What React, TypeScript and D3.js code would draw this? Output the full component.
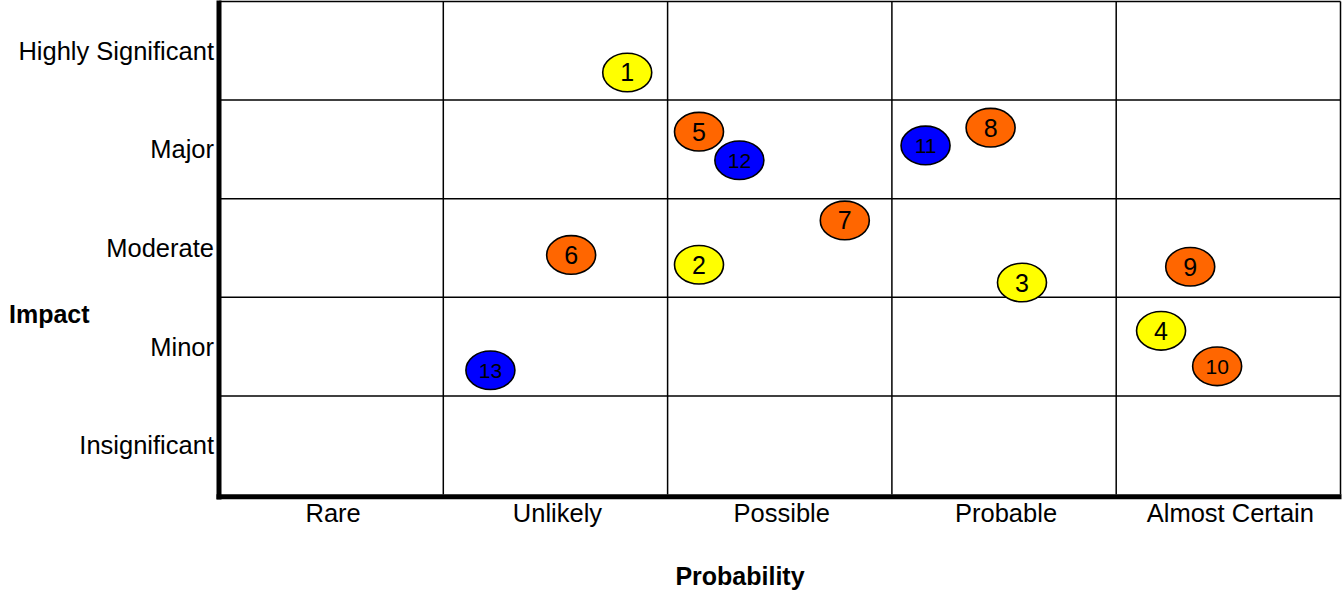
import React from 'react';
import * as d3 from 'd3';

// Axis categories
const probabilityLevels = ['Rare', 'Unlikely', 'Possible', 'Probable', 'Almost Certain'];
const impactLevels = ['Insignificant', 'Minor', 'Moderate', 'Major', 'Highly Significant'];

// Risk markers: position in grid units (probability, impact) and rating
const riskIds = [1, 2, 3, 4, 5, 6, 7, 8, 9, 10, 11, 12, 13];
const riskProbability = [1.82, 2.14, 3.58, 4.2, 2.14, 1.57, 2.79, 3.44, 4.33, 4.45, 3.15, 2.32, 1.21];
const riskImpact = [4.28, 2.33, 2.15, 1.66, 3.68, 2.43, 2.78, 3.72, 2.31, 1.3, 3.54, 3.39, 1.26];
const riskLevel = ['medium', 'medium', 'medium', 'medium', 'high', 'high', 'high', 'high', 'high', 'high', 'severe', 'severe', 'severe'];

const levelColors: Record<string, string> = {
  medium: '#FFFF00',
  high: '#FF6600',
  severe: '#0000FF',
};

const WIDTH = 1342;
const HEIGHT = 593;
const FONT = 'Liberation Sans, Arial, sans-serif';

const App: React.FC = () => {
  const x = d3.scaleLinear().domain([0, probabilityLevels.length]).range([219, 1340.5]);
  const y = d3.scaleLinear().domain([0, impactLevels.length]).range([494.5, 1.5]);

  const xTicks = d3.range(probabilityLevels.length + 1);
  const yTicks = d3.range(impactLevels.length + 1);

  const risks = riskIds.map((id, i) => ({
    id,
    p: riskProbability[i],
    imp: riskImpact[i],
    level: riskLevel[i],
  }));

  return (
    <svg
      width={WIDTH}
      height={HEIGHT}
      style={{ position: 'absolute', left: 0, top: 0, background: '#fff', fontFamily: FONT }}
    >
      {/* grid */}
      <g stroke="#000" strokeWidth={1.5}>
        {xTicks.slice(1).map((t) => (
          <line key={`vx${t}`} x1={x(t)} x2={x(t)} y1={y(5)} y2={y(0)} />
        ))}
        {yTicks.slice(1).map((t) => (
          <line key={`hy${t}`} x1={x(0)} x2={x(5)} y1={y(t)} y2={y(t)} />
        ))}
      </g>

      {/* thick axes */}
      <line x1={x(0)} x2={x(0)} y1={y(5) - 1} y2={y(0) + 5} stroke="#000" strokeWidth={5} />
      <line x1={x(0) - 2.5} x2={x(5) + 1} y1={y(0) + 2.3} y2={y(0) + 2.3} stroke="#000" strokeWidth={5} />

      {/* impact labels */}
      {impactLevels.map((name, i) => (
        <text
          key={name}
          x={214}
          y={y(i + 0.5) + 9}
          textAnchor="end"
          fontSize={25.5}
          fill="#000"
        >
          {name}
        </text>
      ))}

      {/* probability labels */}
      {probabilityLevels.map((name, i) => (
        <text
          key={name}
          x={x(i + 0.5) + 2}
          y={522}
          textAnchor="middle"
          fontSize={25.5}
          fill="#000"
        >
          {name}
        </text>
      ))}

      {/* axis titles */}
      <text x={9} y={323} fontSize={25} fontWeight="bold" fill="#000">Impact</text>
      <text x={740} y={585} textAnchor="middle" fontSize={25} fontWeight="bold" fill="#000">
        Probability
      </text>

      {/* risk markers */}
      {risks.map((r) => (
        <g key={r.id} transform={`translate(${x(r.p)},${y(r.imp)})`}>
          <ellipse rx={24.5} ry={19.3} fill={levelColors[r.level]} stroke="#000" strokeWidth={1.6} />
          <text
            y={r.id > 9 ? 7.5 : 9}
            textAnchor="middle"
            fontSize={r.id > 9 ? 21 : 25}
            fill="#000"
          >
            {r.id}
          </text>
        </g>
      ))}
    </svg>
  );
};

export default App;
